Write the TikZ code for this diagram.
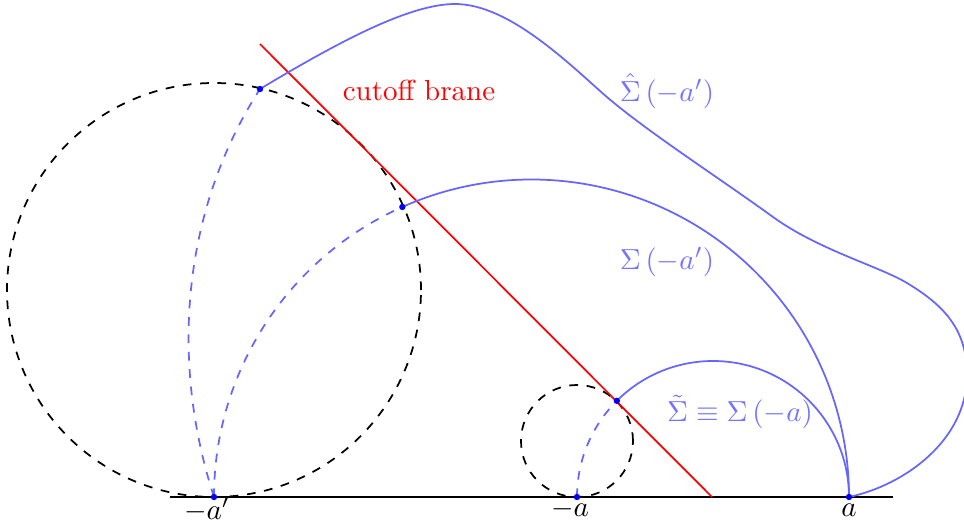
\documentclass[tikz,border=0pt]{standalone}
\usetikzlibrary{calc}
\begin{document}
\begin{tikzpicture}[x=0.345pt,y=0.345pt,
  bluecurve/.style={draw=blue!60, line width=0.6pt},
  bluedash/.style={bluecurve, dashed},
  blackdash/.style={draw=black, dashed, line width=0.6pt},
  dotpt/.style={fill=blue, draw=none, circle, inner sep=0pt, minimum size=2.2pt},
  lab/.style={text=blue!55},
  axlab/.style={anchor=base, inner sep=0pt}]
\useasboundingbox (0,0) rectangle (964,525);
% key points
\coordinate (ap) at (214,28);
\coordinate (am) at (577,28);
\coordinate (a) at (849,28);
\coordinate (p1) at (260,436);
\coordinate (cbig) at (214,235);
\coordinate (csmall) at (577,84);
\coordinate (rtop) at (260,481);
\coordinate (rbot) at (712,28);
\coordinate (bl) at (170,28);
\coordinate (br) at (893,28);
\coordinate (hpeak) at (455,521);
\coordinate (hq1) at (600,434);
\coordinate (hq2) at (773,308);
\coordinate (hq3) at (907,242);
\coordinate (hright) at (967,150);
% dashed circles
\draw[blackdash] (cbig) circle[radius=207];
\draw[blackdash] (csmall) circle[radius=56];
% baseline
\draw[line width=0.6pt] (bl) -- (br);
% cutoff brane
\draw[red, line width=0.6pt] (rtop) -- (rbot);
\node[text=red] (cb) at (419,435) {cutoff brane};
% Sigma(-a') semicircle
\draw[bluedash] (ap) arc[start angle=180, end angle=114, radius=317.5] coordinate (p2);
\draw[bluecurve] (p2) arc[start angle=114, end angle=0, radius=317.5];
% Sigma tilde semicircle
\draw[bluedash] (am) arc[start angle=180, end angle=135, radius=136] coordinate (p3);
\draw[bluecurve] (p3) arc[start angle=135, end angle=0, radius=136];
% Sigma hat
\draw[bluedash] (ap) .. controls (168,170) and (185,320) .. (p1);
\draw[bluecurve] (p1) .. controls (340,484) and (410,521) .. (hpeak)
  .. controls (505,521) and (560,470) .. (hq1)
  .. controls (640,398) and (715,350) .. (hq2)
  .. controls (818,275.4) and (880,258.3) .. (hq3)
  .. controls (945,219) and (967,195) .. (hright)
  .. controls (967,85) and (905,40) .. (a);
% dots
\foreach \p in {ap,am,a,p1,p2,p3} \node[dotpt] at (\p) {};
% labels
\node[lab] (lhat) at (667,434) {$\hat{\Sigma}\left(-a'\right)$};
\node[lab] (lsig) at (667,263) {$\Sigma\left(-a'\right)$};
\node[lab] (ltil) at (740,113) {$\tilde{\Sigma}\equiv\Sigma\left(-a\right)$};
\node[axlab] (lap) at (207,6) {$-a'$};
\node[axlab] (lam) at (570,9) {$-a$};
\node[axlab] (la) at (849,9) {$a$};
\end{tikzpicture}
\end{document}
